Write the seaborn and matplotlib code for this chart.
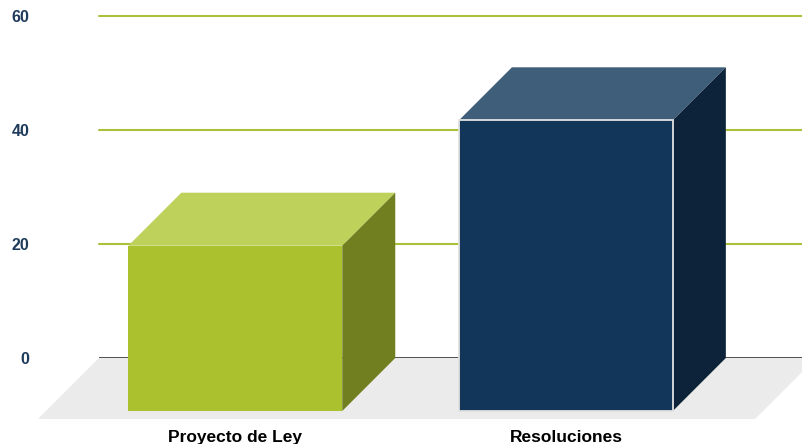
import pandas as pd
import matplotlib.pyplot as plt
import seaborn as sns

#---------------------------------------------------------
categories=['Proyecto de Ley', 'Resoluciones']
values=[29, 51]
yticks=[0, 20, 40, 60]
front_colors=['#abc22e', '#12355a']
top_colors=['#bed15b', '#3f5e7a']
side_colors=['#717f20', '#0c2339']
edge_colors=['none', '#e2e2e2']

#--------------------------------------------------------
sns.set_style('white')
plt.rcParams['font.family']=['Liberation Sans', 'DejaVu Sans']

fig=plt.figure(figsize=(8.03, 4.44), dpi=100)
ax=fig.add_axes([99/803, (444-358)/444, 704/803, 342/444])

df=pd.DataFrame({'cat': categories, 'val': values})
sns.barplot(data=df, x='cat', y='val', hue='cat', palette=front_colors, saturation=1,
			width=0.647, legend=False, ax=ax, zorder=3)
ax.set_xlim(-0.5726, 1.5569)
ax.set_ylim(0, 60)

#pixel offsets -> data units
def px2data(dx, dy):
	t=ax.transData
	x0, y0=t.transform((0, 0))
	a=t.inverted().transform((x0+dx, y0+dy))
	return a[0], a[1]

ddx, ddy=px2data(53, 53)	#bar depth
fdx, fdy=px2data(61, 61)	#floor depth
ext, _=px2data(13, 0)

#floor
xl, xr=ax.get_xlim()
ax.fill([xl, xr+ext, xr+ext-fdx, xl-fdx], [0, 0, -fdy, -fdy],
		color='#ebebeb', clip_on=False, zorder=0.4, lw=0)

#3d bars
for i, p in enumerate(ax.patches[:len(categories)]):
	x0=p.get_x(); w=p.get_width(); h=p.get_height()
	ax.fill([x0-ddx, x0+w-ddx, x0+w, x0], [h-ddy, h-ddy, h, h],
			color=top_colors[i], lw=0, clip_on=False, zorder=2.5)
	ax.fill([x0+w-ddx, x0+w, x0+w, x0+w-ddx], [-ddy, 0, h, h-ddy],
			color=side_colors[i], lw=0, clip_on=False, zorder=2.5)
	p.set_x(x0-ddx)
	p.set_y(-ddy)
	p.set_clip_on(False)
	p.set_edgecolor(edge_colors[i])
	p.set_linewidth(1.3)

#axes
ax.set_xticks([i-ddx for i in range(len(categories))], categories)
ax.set_yticks(yticks)
ax.set_xlabel('')
ax.set_ylabel('')
ax.tick_params(axis='x', length=0, pad=52, labelsize=12.5, labelcolor='black')
ax.tick_params(axis='y', length=0, pad=50, labelsize=11.5, labelcolor='#1f3b5b')
for t in ax.get_xticklabels()+ax.get_yticklabels():
	t.set_fontweight('bold')
sns.despine(ax=ax, left=True, bottom=True)
ax.set_axisbelow(True)
ax.grid(axis='x', visible=False)
ax.grid(axis='y', color='#a9c23a', lw=1.5)
for ln in ax.get_ygridlines():
	ln.set_clip_on(False)
ax.get_ygridlines()[0].set_visible(False)
ax.axhline(0, color='#333333', lw=1.2, zorder=1)

#save
fig.savefig('out.png', dpi=100)
plt.close()
